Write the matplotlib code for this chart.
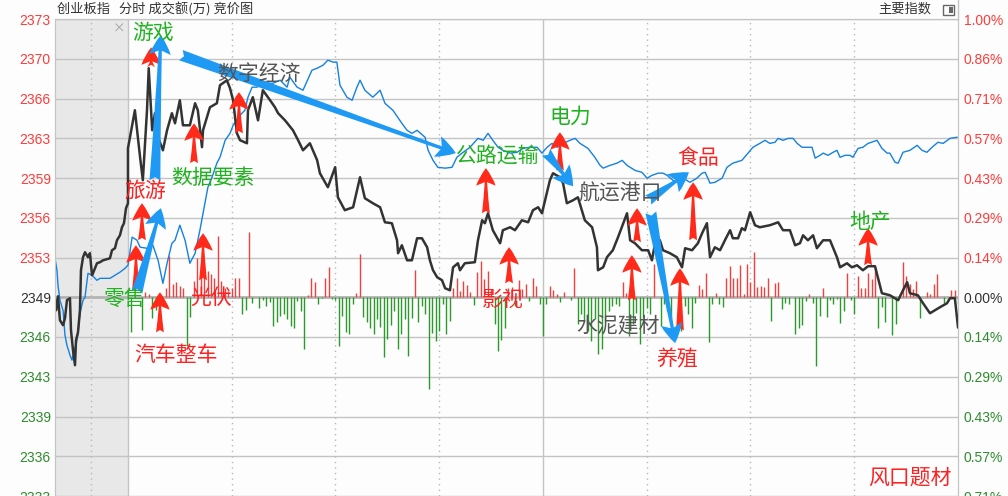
import matplotlib
matplotlib.use("Agg")
import matplotlib.pyplot as plt
from matplotlib.patches import Rectangle
import numpy as np

plt.rcParams['font.family'] = ['Noto Sans CJK SC', 'DejaVu Sans']

# 昨收 (创业板指)
BASE = 2349.4
# 竞价区宽度 (以交易分钟计) 和竞价时长 (9:15-9:25)
AUCTION_SPAN = 21.1
AUCTION_LEN = 10

# 竞价阶段, 分钟 (从 9:15 起)
auction_t = [0, 0.14, 0.41, 0.68, 1.1, 1.37, 1.64, 2.05, 2.19, 2.47,
             2.74, 2.88, 3.15, 3.42, 3.56, 3.84, 4.11, 4.52, 4.79, 5.07,
             5.21, 5.75, 6.16, 6.58, 7.53, 7.81, 8.22, 8.49, 8.9, 9.18,
             9.45, 9.73, 10]
auction_price = [2349.15, 2348.30, 2349.48, 2347.46, 2347.04, 2347.63, 2349.15, 2349.32, 2346.61, 2344.92,
                 2343.66, 2345.77, 2346.44, 2348.30, 2351.68, 2352.78, 2353.20, 2352.78, 2353.12, 2351.26,
                 2351.43, 2352.27, 2352.36, 2352.52, 2352.69, 2353.37, 2353.54, 2354.21, 2354.63, 2355.31,
                 2355.65, 2356.91, 2357.34]
auction_blue_t = [0, 0.27, 0.41, 0.68, 1.1, 1.37, 1.64, 2.05, 2.33, 2.6,
                  2.88, 3.15, 3.42, 3.84, 4.11, 4.52, 5.07, 5.75, 6.16, 7.53,
                  8.22, 8.9, 9.59, 10]
auction_blue_pct = [0.140, 0.097, 0.043, -0.011, -0.047, -0.137, -0.173, -0.208, -0.226, -0.190,
                    -0.173, -0.129, -0.058, -0.011, 0.0, 0.086, 0.079, 0.061, 0.068, 0.068,
                    0.079, 0.090, 0.104, 0.115]

# 分时, 分钟 (从 9:30 起)
price_t = [0, 2, 3.5, 4.3, 5.5, 6, 7, 7.8, 8.7, 10.1,
           11.3, 12.7, 13.6, 15, 15.9, 17.9, 19.4, 20.2, 21.4, 21.7,
           23.7, 25.7, 26.6, 28.6, 29.5, 30.4, 31.5, 32.4, 34.4, 34.7,
           36.1, 37.6, 39, 41.1, 42.5, 43.4, 45.4, 47.7, 49.2, 50.6,
           52.6, 54.7, 55.5, 57.8, 59.9, 60.7, 62.7, 65.1, 67.1, 68.5,
           70.8, 72.9, 74.3, 76.3, 77.8, 78.1, 79.2, 80.7, 82.1, 83.6,
           85, 86.5, 87.3, 88.2, 89.4, 90.8, 91.7, 93.1, 94, 95.4,
           96, 97.4, 100.3, 101.2, 102.4, 103.2, 104.1, 105.5, 107.6, 108.4,
           110.5, 111.9, 113.9, 115.7, 117.1, 118.6, 119.7, 122, 122.9, 124.9,
           125.8, 126.9, 128.7, 130.1, 132.1, 134.2, 135.6, 135.9, 137.4, 138.5,
           140.2, 141.7, 144.3, 145.2, 146.6, 148.6, 150.4, 151.5, 152.4, 153.8,
           154.7, 156.7, 158.7, 160.2, 161.1, 163.1, 164.8, 166, 167.4, 168.3,
           169.7, 171.2, 172.6, 174.1, 174.9, 176.4, 177.5, 178.4, 179.9, 181.3,
           182.7, 185.6, 188, 189.4, 191.4, 192.9, 194.3, 195.2, 196.6, 198.1,
           199.2, 201, 203, 205, 205.9, 207.9, 209.3, 210.8, 212.5, 214,
           216, 218, 220.3, 222.7, 224.1, 225.3, 226.1, 228.4, 229.9, 231.9,
           234.8, 236.8, 237.7, 239.1, 240]
price = [2361.98, 2365.19, 2361.22, 2359.28, 2365.19, 2368.74, 2363.50, 2364.94, 2362.91, 2361.81,
         2363.50, 2364.94, 2364.09, 2366.03, 2363.92, 2363.92, 2365.78, 2365.19, 2362.07, 2363.50,
         2365.44, 2365.78, 2367.30, 2367.72, 2367.05, 2366.03, 2363.25, 2362.66, 2362.40, 2365.19,
         2366.29, 2364.34, 2366.88, 2366.03, 2365.44, 2364.94, 2364.34, 2363.50, 2362.66, 2361.81,
         2362.40, 2360.97, 2359.87, 2358.69, 2360.38, 2357.84, 2356.75, 2357.00, 2359.53, 2357.76,
         2357.34, 2357.00, 2355.73, 2355.65, 2354.21, 2353.12, 2353.79, 2352.52, 2352.52, 2354.38,
         2354.38, 2353.62, 2352.52, 2351.68, 2351.09, 2350.84, 2350.16, 2349.99, 2351.93, 2352.27,
         2351.68, 2352.27, 2352.36, 2354.21, 2355.90, 2355.65, 2356.49, 2355.06, 2353.96, 2355.06,
         2355.31, 2355.06, 2355.90, 2355.73, 2356.75, 2357.00, 2356.49, 2359.28, 2359.87, 2359.53,
         2359.03, 2357.34, 2357.59, 2357.84, 2355.90, 2355.31, 2353.62, 2351.68, 2351.93, 2352.78,
         2353.37, 2354.47, 2356.49, 2354.21, 2353.96, 2353.37, 2353.37, 2352.52, 2353.96, 2354.21,
         2353.37, 2353.12, 2352.78, 2351.93, 2353.54, 2353.37, 2353.96, 2354.80, 2355.65, 2352.78,
         2353.62, 2353.37, 2354.21, 2355.06, 2354.38, 2354.38, 2355.23, 2355.06, 2356.58, 2355.48,
         2355.31, 2355.48, 2355.73, 2355.06, 2355.06, 2353.79, 2353.96, 2354.63, 2354.21, 2354.63,
         2353.54, 2354.21, 2354.21, 2352.78, 2351.93, 2352.27, 2351.93, 2352.10, 2351.68, 2352.02,
         2352.02, 2349.74, 2349.57, 2349.15, 2349.99, 2350.67, 2349.74, 2349.57, 2348.89, 2348.05,
         2348.56, 2348.89, 2349.32, 2349.32, 2346.87]

# 叠加指数 (涨跌幅 %)
blue_t = [0, 1.2, 2.6, 3.5, 5.5, 7.2, 8.7, 10.1, 11.3, 12.7,
          13.6, 15, 16.5, 17.9, 19.4, 20.8, 21.7, 23.1, 24.3, 25.7,
          26.6, 28.1, 29.5, 30.4, 32.4, 33.8, 34.7, 35.9, 37.3, 39,
          41.9, 44, 46, 46.8, 48.9, 50.6, 53.2, 54.7, 56.4, 57.8,
          59.3, 60.4, 61.3, 63.3, 64.8, 66.2, 67.1, 68.5, 70.8, 72.9,
          74.3, 76.6, 79.2, 80.7, 82.1, 83.6, 85.9, 86.8, 88.2, 89.6,
          91.7, 93.7, 95.1, 96.6, 98.9, 101.2, 102.7, 104.1, 105.5, 107,
          108.4, 110.5, 112.5, 114.2, 116.2, 118.3, 119.7, 121.2, 122.6, 124.1,
          125.8, 127.8, 129.3, 130.7, 133, 135, 136.5, 137.4, 139.4, 141.4,
          142.9, 144.3, 146.6, 148.6, 150.1, 151.5, 153.3, 154.7, 155.9, 157.6,
          159, 160.5, 162.5, 164.5, 166, 166.9, 168.3, 169.7, 171.8, 173.2,
          174.9, 177.5, 179.3, 180.7, 182.7, 184.2, 185.6, 187.1, 188, 189.4,
          190.9, 192.3, 193.5, 194.9, 196.3, 197.8, 198.7, 200.1, 201, 202.4,
          203.9, 205, 205.9, 207.3, 208.8, 209.6, 211.1, 212.5, 214, 216.6,
          218, 219.5, 220.3, 221.8, 222.7, 224.1, 226.1, 228.2, 229.6, 231,
          232.5, 234.2, 235.7, 237.7, 239.7]
blue_pct = [0.115, 0.216, 0.205, 0.180, 0.176, 0.187, 0.133, 0.050, 0.122, 0.194,
            0.205, 0.259, 0.205, 0.122, 0.158, 0.241, 0.302, 0.395, 0.431, 0.482,
            0.503, 0.564, 0.589, 0.618, 0.654, 0.672, 0.719, 0.755, 0.755, 0.769,
            0.769, 0.780, 0.755, 0.791, 0.755, 0.744, 0.816, 0.823, 0.834, 0.852,
            0.845, 0.845, 0.762, 0.719, 0.708, 0.755, 0.780, 0.744, 0.719, 0.744,
            0.697, 0.672, 0.625, 0.600, 0.589, 0.600, 0.575, 0.528, 0.492, 0.467,
            0.464, 0.467, 0.503, 0.518, 0.539, 0.571, 0.564, 0.589, 0.564, 0.539,
            0.528, 0.518, 0.521, 0.535, 0.539, 0.539, 0.518, 0.539, 0.553, 0.539,
            0.553, 0.564, 0.571, 0.553, 0.535, 0.503, 0.474, 0.464, 0.474, 0.482,
            0.492, 0.474, 0.456, 0.449, 0.428, 0.438, 0.446, 0.446, 0.438, 0.420,
            0.413, 0.428, 0.413, 0.428, 0.446, 0.449, 0.410, 0.413, 0.428, 0.467,
            0.482, 0.492, 0.518, 0.539, 0.553, 0.564, 0.553, 0.557, 0.571, 0.564,
            0.571, 0.571, 0.553, 0.539, 0.539, 0.539, 0.500, 0.510, 0.518, 0.510,
            0.521, 0.528, 0.503, 0.510, 0.510, 0.503, 0.535, 0.539, 0.553, 0.564,
            0.535, 0.518, 0.518, 0.485, 0.482, 0.521, 0.528, 0.546, 0.528, 0.521,
            0.539, 0.557, 0.553, 0.571, 0.575]

# 成交额柱 (红: 增, 绿: 减)
up_t = [5, 6, 11, 12, 13, 14, 15, 16, 19, 20,
        21, 22, 23, 24, 25, 26, 27, 28, 29, 30,
        31, 32, 35, 52, 53, 54, 57, 58, 66, 67,
        83, 94, 95, 96, 97, 98, 99, 101, 102, 103,
        104, 105, 110, 111, 113, 114, 115, 117, 118, 122,
        123, 124, 126, 129, 143, 144, 152, 165, 166, 167,
        170, 173, 174, 175, 176, 177, 178, 179, 180, 181,
        182, 183, 184, 185, 187, 188, 197, 201, 208, 211,
        212, 213, 214, 215, 216, 224, 225, 226, 227, 228,
        231, 232, 233, 234, 238, 239]
up_v = [5, 3, 9, 41, 13, 15, 11, 9, 16, 39,
        33, 33, 26, 23, 19, 61, 16, 9, 6, 9,
        19, 19, 65, 2, 19, 15, 19, 30, 4, 43,
        27, 9, 19, 6, 16, 12, 5, 25, 36, 18,
        26, 8, 9, 10, 17, 8, 13, 19, 11, 11,
        7, 3, 5, 29, 15, 4, 33, 12, 8, 24,
        4, 19, 31, 19, 19, 32, 3, 33, 15, 45,
        10, 11, 10, 19, 14, 15, 3, 9, 24, 21,
        9, 9, 24, 18, 29, 35, 21, 13, 8, 16,
        5, 3, 13, 23, 7, 7]
dn_t = [1, 4, 7, 8, 17, 18, 33, 34, 36, 38,
        39, 40, 41, 42, 43, 44, 45, 46, 47, 48,
        49, 50, 51, 55, 56, 59, 60, 61, 62, 63,
        64, 65, 68, 69, 70, 71, 72, 73, 74, 75,
        76, 77, 78, 79, 80, 81, 82, 84, 85, 86,
        87, 88, 89, 90, 91, 92, 93, 100, 106, 107,
        108, 109, 112, 116, 119, 120, 121, 125, 128, 130,
        131, 132, 133, 134, 135, 136, 137, 138, 139, 140,
        141, 142, 145, 146, 147, 148, 149, 150, 151, 154,
        155, 156, 157, 159, 160, 161, 162, 163, 164, 168,
        169, 171, 172, 186, 189, 190, 191, 193, 194, 195,
        196, 198, 199, 200, 202, 203, 204, 205, 206, 207,
        209, 210, 217, 218, 219, 221, 222, 229, 236, 240]
dn_v = [35, 33, 21, 13, 49, 20, 17, 13, 6, 11,
        3, 9, 5, 29, 25, 19, 17, 22, 29, 31,
        4, 14, 52, 7, 1, 2, 3, 49, 19, 35,
        37, 7, 20, 25, 31, 37, 22, 30, 60, 42,
        28, 14, 52, 37, 22, 59, 21, 25, 9, 17,
        92, 36, 44, 34, 7, 37, 24, 8, 27, 54,
        43, 31, 9, 4, 7, 39, 7, 5, 3, 27,
        17, 25, 34, 44, 22, 57, 52, 24, 14, 9,
        7, 9, 39, 27, 16, 47, 21, 11, 17, 29,
        7, 14, 20, 34, 34, 9, 17, 31, 6, 45,
        7, 7, 10, 24, 12, 6, 7, 37, 31, 28,
        4, 6, 69, 19, 20, 3, 7, 2, 26, 14,
        3, 17, 31, 10, 25, 38, 27, 21, 6, 7]
VOL_SCALE = 1 / 7 / 39.75   # 柱高换算到涨跌幅刻度

# 题材标注
label_text = ['游戏', '数字经济', '数据要素', '旅游', '零售', '光伏', '汽车整车', '公路运输',
              '电力', '航运港口', '食品', '影视', '水泥建材', '养殖', '地产', '风口题材']
label_t = [7.2, 37.9, 24.6, 4.9, -1.2, 24.0, 13.9, 107.0,
           127.8, 142.3, 164.8, 108.4, 141.7, 158.7, 214.6, 226.1]
label_pct = [0.949, 0.801, 0.428, 0.381, -0.004, -0.004, -0.208, 0.510,
             0.647, 0.374, 0.500, -0.011, -0.104, -0.223, 0.270, -0.647]
label_kind = ['g', 'k', 'g', 'r', 'g', 'r', 'r', 'g',
              'g', 'k', 'r', 'r', 'k', 'r', 'g', 'r']

# 红色上涨箭头: 时间, 尾, 头
red_t = [6.7, 32.1, 19.1, 4.05, 2.3, 9.25, 21.7, 103.5, 110.2, 124.9, 147.2, 145.7, 163.4, 159.6, 214.0]
red_from = [0.827, 0.589, 0.482, 0.205, 0.025, -0.126, 0.061, 0.302, 0.050, 0.456, 0.198, -0.011, 0.205, -0.119, 0.115]
red_to = [0.898, 0.737, 0.625, 0.338, 0.187, 0.018, 0.230, 0.464, 0.180, 0.593, 0.320, 0.151, 0.413, 0.104, 0.248]

# 蓝色箭头
blue_from = [(7.8, 0.420), (2.6, 0.018), (15.3, 0.870), (120.9, 0.521), (150.4, 0.349), (151.2, 0.305)]
blue_to = [(9.5, 0.942), (9.5, 0.320), (94.8, 0.518), (128.7, 0.399), (162.2, 0.449), (158.2, -0.165)]

RED = '#ff2a1a'
GREEN = '#2b9a2b'
text_colors = {'g': '#1fb21f', 'r': '#ff2020', 'k': '#555555'}

W, H = 1008, 496
fig = plt.figure(figsize=(W / 100, H / 100), dpi=100)
fig.patch.set_facecolor('#fdfdfd')
ax = fig.add_axes([55 / W, 0, (958 - 55) / W, (H - 19) / H])
ax.set_facecolor('#fdfdfd')
ax.set_xlim(-AUCTION_SPAN, 240)
ax.set_ylim(-5 / 7, 1.0)

# 竞价区底色与网格
ax.axvspan(-AUCTION_SPAN, 0, color='#e8e8e8', zorder=0, lw=0)
levels = np.arange(-5, 8) / 7
for lv in levels:
    ax.axhline(lv, color='#c4c4c4', lw=1, zorder=1)
ax.axhline(0, color='#b4b4b4', lw=2, zorder=1)
for m in [30, 60, 90, 150, 180, 210]:
    ax.axvline(m, color='#b8b8b8', lw=1, ls=(0, (1, 3)), zorder=1)
ax.axvline(-AUCTION_SPAN / 2, color='#b8b8b8', lw=1, ls=(0, (1, 3)), zorder=1)
ax.axvline(0, color='#c4c4c4', lw=1, zorder=1)
ax.axvline(120, color='#c4c4c4', lw=1, zorder=1)

# 成交额柱
ax.vlines(up_t, 0, np.array(up_v) * VOL_SCALE, colors='#f04040', lw=1, zorder=2)
ax.vlines(dn_t, 0, -np.array(dn_v) * VOL_SCALE, colors=GREEN, lw=1, zorder=2)

# 指数线
ax_t = -AUCTION_SPAN + np.array(auction_t) * AUCTION_SPAN / AUCTION_LEN
ab_t = -AUCTION_SPAN + np.array(auction_blue_t) * AUCTION_SPAN / AUCTION_LEN
all_t = np.concatenate([ax_t, price_t])
all_pct = (np.array(auction_price + price) / BASE - 1) * 100
ax.plot(np.concatenate([ab_t, blue_t]), auction_blue_pct + blue_pct,
        color='#1581e0', lw=1, zorder=3)
ax.plot(all_t, all_pct, color='#333333', lw=1.8, zorder=4)

# 箭头
for t, y0, y1 in zip(red_t, red_from, red_to):
    ax.annotate('', xy=(t, y1), xytext=(t, y0), zorder=6,
                arrowprops=dict(arrowstyle='fancy,head_length=0.45,head_width=0.5,tail_width=0.2',
                                fc=RED, ec='none', mutation_scale=28, shrinkA=0, shrinkB=0))
for p0, p1 in zip(blue_from, blue_to):
    ax.annotate('', xy=p1, xytext=p0, zorder=6,
                arrowprops=dict(arrowstyle='fancy,head_length=0.5,head_width=0.55,tail_width=0.28',
                                fc='#1e9af5', ec='none', mutation_scale=28, shrinkA=0, shrinkB=0))

# 题材文字
for s, t, y, k in zip(label_text, label_t, label_pct, label_kind):
    ax.text(t, y, s, color=text_colors[k], fontsize=15, ha='center', va='center', zorder=7)

ax.text(-2.6, 0.963, '×', color='#a0a0a0', fontsize=9, ha='center', va='center', zorder=5)

# 坐标轴
ax.set_xticks([])
ax.set_yticks(levels)
ax.set_yticklabels([f"{BASE * (1 + lv / 100):.0f}" for lv in levels])
ax.tick_params(axis='y', length=0, pad=3)
for lab, lv in zip(ax.get_yticklabels(), levels):
    lab.set_color('#ff3b3b' if lv > 1e-9 else ('#333333' if abs(lv) < 1e-9 else '#2e8b2e'))
    lab.set_fontfamily('Liberation Sans')
    lab.set_fontsize(10)

ax2 = ax.twinx()
ax2.set_ylim(ax.get_ylim())
ax2.set_yticks(levels)
ax2.set_yticklabels([f"{abs(lv):.2f}%" for lv in levels])
ax2.tick_params(axis='y', length=0, pad=4)
for lab, lv in zip(ax2.get_yticklabels(), levels):
    lab.set_color('#ff3b3b' if lv > 1e-9 else ('#333333' if abs(lv) < 1e-9 else '#2e8b2e'))
    lab.set_fontfamily('Liberation Sans')
    lab.set_fontsize(10)

for a in (ax, ax2):
    for side in ('left', 'top', 'right'):
        a.spines[side].set_color('#c4c4c4')
    a.spines['bottom'].set_visible(False)

# 右边框延伸到顶部
fig.add_artist(plt.Line2D([958 / W, 958 / W], [(H - 19) / H, 1], color='#c4c4c4', lw=1))

# 顶部标题
fig.text(57 / W, 1 - 9 / H, '创业板指   分时 成交额(万) 竞价图', fontsize=9.5, color='#333333', va='center')
fig.text(931 / W, 1 - 9 / H, '主要指数', fontsize=9.5, color='#333333', va='center', ha='right')
fig.add_artist(Rectangle((943 / W, 1 - 15 / H), 11 / W, 10 / H, fc='none', ec='#666666', lw=1))
fig.add_artist(Rectangle((949 / W, 1 - 13 / H), 4 / W, 6 / H, fc='#666666', ec='none'))

fig.savefig('out.png', dpi=100, facecolor=fig.get_facecolor())
